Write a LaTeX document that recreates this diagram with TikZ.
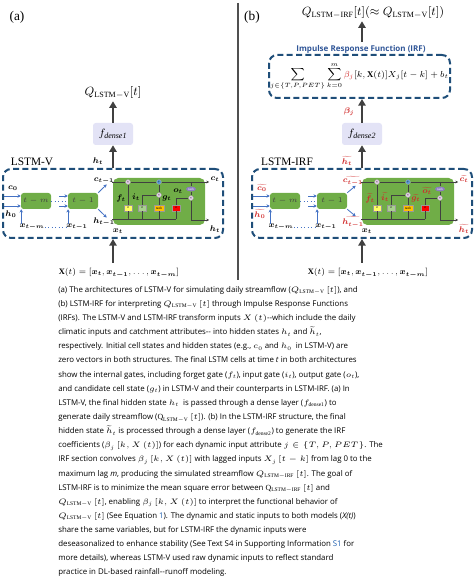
\RequirePackage{fix-cm}
\documentclass[tikz,border=0pt]{standalone}
\usepackage{amsmath}
\usepackage{bm}
\usepackage{graphicx}
\usepackage{fontspec}
\setmainfont{Liberation Serif}
\newfontfamily\capfont{Open Sans}
\usetikzlibrary{arrows.meta,positioning,calc,shapes.geometric}
\definecolor{lstmgreen}{HTML}{70AD47}
\definecolor{lstmblue}{HTML}{1F4E79}
\definecolor{arrowblue}{HTML}{4472C4}
\definecolor{arrowgray}{HTML}{404040}
\definecolor{densefill}{HTML}{E3E3F6}
\definecolor{irfred}{HTML}{D02A2A}
\definecolor{irftitle}{HTML}{2F5597}
\definecolor{capblue}{HTML}{1F5FAF}
\definecolor{gateyellow}{HTML}{FFFF66}
\definecolor{gatelime}{HTML}{A9D18E}
\definecolor{gategold}{HTML}{FFC000}
\definecolor{gatered}{HTML}{FF0000}
\definecolor{tanhpurple}{HTML}{8E7CC3}
\definecolor{mulpink}{HTML}{E6D0EA}
\definecolor{addblue}{HTML}{5B9BD5}
\definecolor{divgray}{HTML}{505050}
\tikzset{
  lstmframe/.style={rectangle,draw=lstmblue,line width=1.5pt,dash pattern=on 4.5pt off 2.5pt,
                    rounded corners=6pt,inner sep=0pt},
  cellbox/.style={rectangle,fill=lstmgreen,rounded corners=4pt,inner sep=0pt},
  stepbox/.style={rectangle,fill=lstmgreen,rounded corners=2pt,minimum width=22.5pt,minimum height=12pt,
                  inner sep=0pt,font=\fontsize{5.5}{6}\selectfont,text=black!75},
  gatebox/.style={rectangle,draw=black!40,line width=0.2pt,minimum width=6pt,minimum height=4.5pt,
                  inner sep=0pt,font=\fontsize{2.6}{3}\selectfont},
  opcirc/.style={circle,fill=mulpink,draw=black!35,line width=0.2pt,minimum size=3.6pt,
                 inner sep=0pt,font=\fontsize{3}{3}\selectfont},
  tanhnode/.style={ellipse,fill=tanhpurple,minimum width=7.5pt,minimum height=3.6pt,inner sep=0pt,
                   font=\fontsize{2.5}{3}\selectfont,text=white},
  densebox/.style={rectangle,fill=densefill,rounded corners=2pt,minimum width=30pt,minimum height=16.5pt,
                   inner sep=0pt,font=\fontsize{8}{9}\selectfont},
  bigarrow/.style={-{Triangle[length=5pt,width=5.5pt]},line width=2pt,draw=arrowgray},
  smallarrow/.style={-{Stealth[length=2.4pt,width=2.6pt]},line width=0.6pt,draw=arrowblue},
  dotline/.style={draw=arrowblue,line width=0.6pt,dotted},
  wire/.style={draw=black!75,line width=0.35pt},
  wirearrow/.style={wire,-{Stealth[length=2pt,width=2pt]}},
  varlab/.style={inner sep=0pt,font=\fontsize{6.8}{7.5}\selectfont},
  panellab/.style={inner sep=0pt,font=\fontsize{10}{12}\selectfont},
  outlab/.style={inner sep=0pt,font=\fontsize{9}{11}\selectfont},
  irfhead/.style={inner sep=0pt,font=\capfont\bfseries\fontsize{6}{7}\selectfont,text=irftitle},
  captext/.style={anchor=north west,inner sep=0pt,align=left,font=\capfont\fontsize{5.9}{10.6}\selectfont},
}
% shrink the bold math labels a little
\newcommand{\smallmath}[1]{\scalebox{0.9}{#1}}
% label of a state or gate, set anew in each panel
\newcommand{\vlab}[2]{}
% one LSTM panel, drawn in panel coordinates (pixels)
\newcommand{\lstmpanel}{%
  \node[lstmframe,minimum width=165pt,minimum height=51.75pt] (frame) at (113,203.5) {};
  \node[cellbox,minimum width=69pt,minimum height=35.25pt] (cell) at (159,201.5) {};
  % unrolled steps
  \node[stepbox] (tm) at (36,201) {$t-m$};
  \node[stepbox] (t1) at (83,201) {$t-1$};
  \coordinate (c0in) at (4,196);
  \coordinate (h0in) at (4,206);
  \node[varlab] (c0) at (13,188) {\vlab{c}{0}};
  \node[varlab] (h0) at (11,214) {\vlab{h}{0}};
  \node[varlab] (xtm) at (32,227) {\smallmath{$\bm{x_{t-m}}$}};
  \node[varlab] (xt1) at (77,227) {\smallmath{$\bm{x_{t-1}}$}};
  \node[varlab] (ctm1) at (104,181) {\vlab{c}{t-1}};
  \node[varlab] (htm1) at (104,222) {\vlab{h}{t-1}};
  \node[varlab] (xt) at (118,231) {\smallmath{$\bm{x_t}$}};
  \draw[smallarrow] (c0in) -- (c0in -| tm.west);
  \draw[smallarrow] (h0in) -- (h0in -| tm.west);
  \draw[dotline] (tm.east) -- (t1.west);
  \draw[smallarrow] ([xshift=6pt]tm.east |- c0in) -- (t1.west |- c0in);
  \draw[smallarrow] ([xshift=6pt]tm.east |- h0in) -- (t1.west |- h0in);
  \draw[smallarrow] ([xshift=1.5pt]xtm.north west) -- ([xshift=1.5pt]xtm.north west |- tm.south);
  \draw[smallarrow] ([xshift=1.5pt]xt1.north west) -- ([xshift=1.5pt]xt1.north west |- t1.south);
  \draw[dotline] (xtm.east) -- (xt1.west);
  \draw[smallarrow] (t1.north east) -- ([xshift=2pt]ctm1.south);
  \draw[smallarrow] (t1.south east) -- ([xshift=2pt]htm1.north);
  % last cell
  \node[opcirc] (fmul) at (128,182) {×};
  \node[opcirc,fill=addblue] (add) at (159,182) {+};
  \node[opcirc] (igmul) at (159,195) {×};
  \node[opcirc] (omul) at (191,198) {×};
  \node[tanhnode] (ctanh) at (191,189) {tanh};
  \node[gatebox,fill=gateyellow] (fg) at (128,208) {σ};
  \node[gatebox,fill=gatelime] (ig) at (142,208) {σ};
  \node[gatebox,fill=gategold,minimum width=7pt] (gg) at (159,208) {tanh};
  \node[gatebox,fill=gatered] (og) at (176,208) {σ};
  \coordinate (cin) at (112,182);
  \coordinate (cout) at (209,182);
  \coordinate (hin) at (112,219);
  \coordinate (hout) at (209,220);
  \draw[wire] (cin) -- (fmul);
  \draw[wire] (fmul) -- (add);
  \draw[wirearrow] (add) -- (cout);
  \draw[wire] (ctanh |- add) -- (ctanh);
  \draw[wire] (ctanh) -- (omul);
  \draw[wirearrow] (omul) |- (hout);
  \draw[wire] (hin) -- (og |- hin);
  \foreach \g in {fg,ig,gg,og}
    \draw[wire] (\g |- hin) -- (\g);
  \draw[wire] (fg) -- (fmul);
  \draw[wire] (ig) |- (igmul);
  \draw[wire] (gg) -- (igmul);
  \draw[wire] (igmul) -- (add);
  \draw[wire] (og) |- (omul);
  \node[varlab] (flab) at (121,198) {\vlab{f}{t}};
  \node[varlab] (ilab) at (136,197) {\vlab{i}{t}};
  \node[varlab] (glab) at (167,198) {\vlab{g}{t}};
  \node[varlab] (olab) at (178,191) {\vlab{o}{t}};
  \node[varlab] (ctlab) at (215,179) {\vlab{c}{t}};
  \node[varlab] (htlab) at (215,229) {\vlab{h}{t}};
  % input and output of the LSTM
  \node[outlab,font=\fontsize{7.4}{9}\selectfont] (xin) at (119,273)
    {\scalebox{0.85}{$\mathbf{X}(t)=[\bm{x_t},\bm{x_{t-1}},\ldots,\bm{x_{t-m}}]$}};
  \draw[bigarrow] ([yshift=4pt]frame.south |- xin.north) -- (frame.south);
  \node[varlab] (htop) at (98,161) {\vlab{h}{t}};
  \draw[bigarrow] (frame.north) -- (dense.south);
}

\begin{document}
\begin{tikzpicture}[x=0.75pt,y=-0.75pt]
  \useasboundingbox (0,0) rectangle (474,580);
  \draw[divgray,line width=1.2pt] (238,3) -- (238,280);

  % (a) LSTM-V
  \begin{scope}[name prefix=a-]
    \renewcommand{\vlab}[2]{\smallmath{$\bm{#1_{#2}}$}}
    \node[panellab] (tag) at (17,17) {(a)};
    \node[panellab,font=\fontsize{8.5}{10}\selectfont] (name) at (32,162) {LSTM-V};
    \node[densebox] (dense) at (113,134) {$f_{\mathit{dense1}}$};
    \lstmpanel
    \node[outlab] (qout) at (113,93) {$Q_{\mathrm{LSTM}-\mathrm{V}}[t]$};
    \draw[bigarrow] (dense.north) -- ([yshift=-1.5pt]qout.south);
  \end{scope}

  % (b) LSTM-IRF
  \begin{scope}[shift={(249,0)},name prefix=b-]
    \renewcommand{\vlab}[2]{\smallmath{\textcolor{irfred}{$\widetilde{\bm{#1_{#2}}}$}}}
    \node[panellab] (tag) at (3,17) {(b)};
    \node[panellab,font=\fontsize{8.5}{10}\selectfont] (name) at (38,162) {LSTM-IRF};
    \node[densebox] (dense) at (113,134) {$f_{\mathit{dense2}}$};
    \lstmpanel
    \node[lstmframe,minimum width=135.75pt,minimum height=32.25pt,font=\fontsize{7.3}{9}\selectfont] (irf) at (110.5,76.5)
      {\scalebox{0.9}{$\displaystyle\sum_{j\in\{T,P,PET\}}\sum_{k=0}^{m}\textcolor{irfred}{\beta_j}[k,\mathbf{X}(t)]X_j[t-k]+b_t$}};
    \node[irfhead] (irftitle) at (112,49) {Impulse Response Function (IRF)};
    \node[varlab,text=irfred] (beta) at (100,112) {\smallmath{$\bm{\beta_j}$}};
    \draw[bigarrow] (dense.north) -- (dense.north |- irf.south);
    \node[outlab] (qout) at (124,13) {$Q_{\mathrm{LSTM}-\mathrm{IRF}}[t](\approx Q_{\mathrm{LSTM}-\mathrm{V}}[t])$};
    \draw[bigarrow] ([yshift=2pt]dense.north |- irftitle.north) -- ([yshift=-1.5pt]dense.north |- qout.south);
  \end{scope}

  % caption
  \node[captext] (caption) at (58,286) {%
(a) The architectures of LSTM-V for simulating daily streamflow ($Q_{\mathrm{LSTM-V}}\,[t]$), and\\
(b) LSTM-IRF for interpreting $Q_{\mathrm{LSTM-V}}\,[t]$ through Impulse Response Functions\\
(IRFs). The LSTM-V and LSTM-IRF transform inputs $X\,(t)$--which include the daily\\
climatic inputs and catchment attributes-- into hidden states $h_t$ and $\widetilde{h}_t$,\\
respectively. Initial cell states and hidden states (e.g., $c_0$ and $h_0$\ \ in LSTM-V) are\\
zero vectors in both structures. The final LSTM cells at time \textit{t} in both architectures\\
show the internal gates, including forget gate ($f_t$), input gate ($i_t$), output gate ($o_t$),\\
and candidate cell state ($g_t$) in LSTM-V and their counterparts in LSTM-IRF. (a) In\\
LSTM-V, the final hidden state $h_t$\ \ is passed through a dense layer ($f_{\mathrm{dense1}}$) to\\
generate daily streamflow ($\mathrm{Q}_{\mathrm{LSTM-V}}\,[t]$). (b) In the LSTM-IRF structure, the final\\
hidden state $\widetilde{h}_t$ is processed through a dense layer ($f_{\mathrm{dense2}}$) to generate the IRF\\
coefficients ($\beta_j\,[k,X\,(t)]$) for each dynamic input attribute $j\in\{T,P,PET\}$. The\\
IRF section convolves $\beta_j\,[k,X\,(t)]$ with lagged inputs $X_j\,[t-k]$ from lag 0 to the\\
maximum lag \textit{m}, producing the simulated streamflow $Q_{\mathrm{LSTM-IRF}}\,[t]$. The goal of\\
LSTM-IRF is to minimize the mean square error between $\mathrm{Q}_{\mathrm{LSTM-IRF}}\,[t]$ and\\
$Q_{\mathrm{LSTM-V}}\,[t]$, enabling $\beta_j\,[k,X\,(t)]$ to interpret the functional behavior of\\
$Q_{\mathrm{LSTM-V}}\,[t]$ (See Equation \textcolor{capblue}{1}). The dynamic and static inputs to both models (\textit{X(t)})\\
share the same variables, but for LSTM-IRF the dynamic inputs were\\
deseasonalized to enhance stability (See Text S4 in Supporting Information \textcolor{capblue}{S1} for\\
more details), whereas LSTM-V used raw dynamic inputs to reflect standard\\
practice in DL-based rainfall--runoff modeling.};
\end{tikzpicture}
\end{document}
